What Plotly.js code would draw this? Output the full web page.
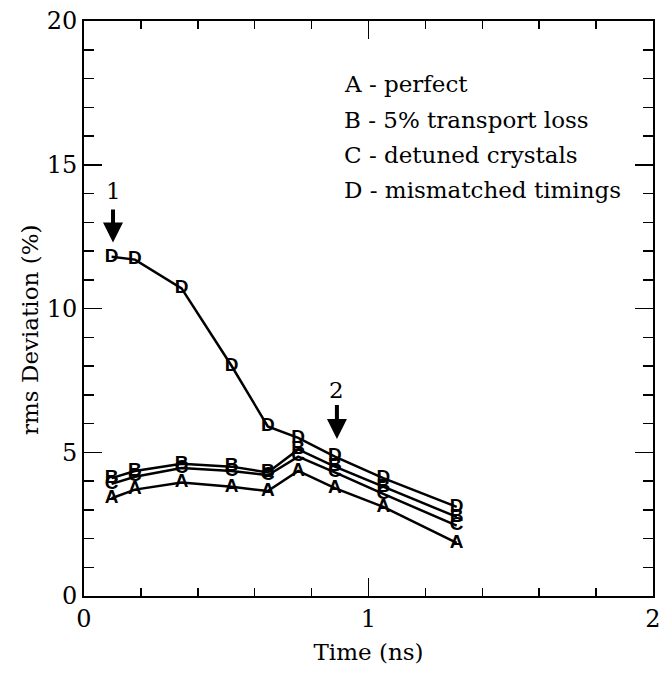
<!DOCTYPE html>
<html>
<head>
<meta charset="utf-8">
<script src="https://cdn.plot.ly/plotly-3.0.1.min.js"></script>
<style>html,body{margin:0;padding:0;background:#fff;}#chart{width:668px;height:674px;}</style>
</head>
<body>
<div id="chart"></div>
<script>
// Data
const time = [0.097, 0.179, 0.343, 0.519, 0.646, 0.753, 0.882, 1.052, 1.310];
const seriesA = [3.40, 3.70, 3.95, 3.80, 3.65, 4.35, 3.75, 3.10, 1.85];
const seriesB = [4.10, 4.35, 4.60, 4.50, 4.30, 5.10, 4.50, 3.80, 2.75];
const seriesC = [3.90, 4.15, 4.45, 4.35, 4.20, 4.85, 4.30, 3.55, 2.45];
const seriesD = [11.80, 11.70, 10.70, 8.00, 5.90, 5.50, 4.85, 4.10, 3.10];
const seriesNames = ["A", "B", "C", "D"];
const legendLabels = ["A - perfect", "B - 5% transport loss", "C - detuned crystals", "D - mismatched timings"];
const legendY = [17.8, 16.56, 15.34, 14.12];
const arrowLabels = ["1", "2"];
const arrowX = [0.102, 0.889];
const arrowTip = [12.3, 5.46];
const arrowTail = [13.5, 6.7];
const arrowText = [14.1, 7.15];

const serif = "DejaVu Serif, serif";
const allSeries = [seriesA, seriesB, seriesC, seriesD];

const traces = allSeries.map((ys, i) => ({
  x: time, y: ys, type: "scatter", mode: "lines+text",
  text: ys.map(() => seriesNames[i]),
  textposition: "middle center",
  textfont: {family: "Liberation Sans, Arial, sans-serif", size: 19, color: "#000", weight: "bold"},
  line: {color: "#000", width: 2.5},
  showlegend: false, hoverinfo: "skip"
}));

const annotations = [];
legendLabels.forEach((t, i) => {
  annotations.push({
    x: 0.907, y: legendY[i], xref: "x", yref: "y",
    text: t, showarrow: false, xanchor: "left", yanchor: "middle",
    font: {family: serif, size: 23, color: "#000"}
  });
});
arrowLabels.forEach((t, i) => {
  annotations.push({
    x: arrowX[i], y: arrowText[i], xref: "x", yref: "y", text: t, showarrow: false,
    xanchor: "center", yanchor: "middle", font: {family: serif, size: 23, color: "#000"}
  });
  annotations.push({
    x: arrowX[i], y: arrowTip[i], xref: "x", yref: "y", text: "",
    showarrow: true, axref: "x", ayref: "y", ax: arrowX[i], ay: arrowTail[i],
    arrowhead: 2, arrowsize: 1, arrowwidth: 4, arrowcolor: "#000", standoff: 0
  });
});
// y-axis title (placed to match the reference position)
annotations.push({
  x: -0.095, y: 0.4626, xref: "paper", yref: "paper", text: "rms Deviation (%)",
  showarrow: false, textangle: -90, xanchor: "center", yanchor: "middle",
  font: {family: serif, size: 23, color: "#000"}
});

const layout = {
  width: 668, height: 674,
  margin: {l: 84, r: 15, t: 21, b: 78},
  paper_bgcolor: "#fff", plot_bgcolor: "#fff",
  font: {family: serif, color: "#000", size: 23},
  xaxis: {
    range: [0, 2], dtick: 1, tick0: 0,
    ticks: "inside", ticklen: 18, tickwidth: 1.5, tickcolor: "#000",
    minor: {dtick: 0.2, ticks: "inside", ticklen: 8, tickwidth: 1.5, tickcolor: "#000"},
    showline: true, linecolor: "#000", linewidth: 2, mirror: "allticks",
    showgrid: false, zeroline: false,
    tickfont: {family: serif, size: 24},
    title: {text: "Time (ns)", font: {family: serif, size: 23}, standoff: 12}
  },
  yaxis: {
    range: [0, 20], dtick: 5, tick0: 0,
    ticks: "inside", ticklen: 18, tickwidth: 1.5, tickcolor: "#000",
    minor: {dtick: 1, ticks: "inside", ticklen: 10, tickwidth: 1.5, tickcolor: "#000"},
    showline: true, linecolor: "#000", linewidth: 2, mirror: "allticks",
    showgrid: false, zeroline: false,
    tickfont: {family: serif, size: 24}
  },
  annotations: annotations
};

Plotly.newPlot("chart", traces, layout, {displayModeBar: false, staticPlot: true});
</script>
</body>
</html>
